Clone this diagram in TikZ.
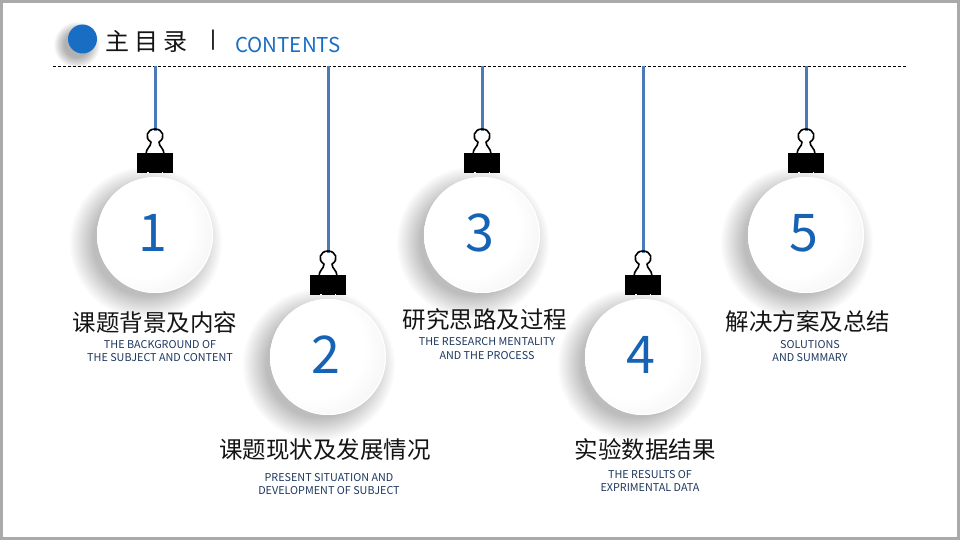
\documentclass[tikz,border=0pt]{standalone}
\usepackage{fontspec}
\setmainfont{Noto Sans CJK SC}
\definecolor{stringblue}{RGB}{74,122,184}
\definecolor{numblue}{RGB}{22,98,180}
\definecolor{titleblue}{RGB}{25,110,196}
\definecolor{engblue}{RGB}{30,56,96}
\definecolor{txtblack}{RGB}{20,20,20}
\definecolor{framegray}{RGB}{170,170,170}
\pgfdeclareradialshading{ballshade}{\pgfpoint{-10bp}{6bp}}{color(0bp)=(white); color(22bp)=(white); color(40bp)=(black!7); color(52bp)=(black!15); color(62bp)=(black!20)}
\tikzset{
  cjklabel/.style={font=\fontsize{23.5}{26}\selectfont, text=txtblack, inner sep=0pt},
  englabel/.style={font=\fontsize{10.8}{13.5}\selectfont, text=engblue, align=center, inner sep=0pt},
  numlabel/.style={font=\fontsize{52}{56}\selectfont, text=numblue, inner sep=0pt},
  hangstring/.style={draw=stringblue, line width=3pt},
  clipbody/.style={fill=black},
  cliphandle/.style={draw=black, line width=1.6pt, line join=round},
  ballface/.style={shading=ballshade},
}
\begin{document}
\begin{tikzpicture}[x=1pt,y=-1pt]
\useasboundingbox (0,0) rectangle (960,540);
\fill[white] (0,0) rectangle (960,540);
\draw[framegray, line width=3pt] (1.5,1.5) rectangle (958.5,538.5);

% title
\foreach \k in {1,...,12}{
  \fill[black, opacity=0.028] (77,45) circle ({12+\k*0.9});
}
\fill[titleblue] (82.5,39) circle (14.5);
\node[font=\fontsize{24}{26}\selectfont, text=txtblack, anchor=west, inner sep=0pt] (ttl) at (105,41) {主\hspace{5pt}目\hspace{5pt}录};
\node[font=\fontsize{22}{26}\selectfont, text=txtblack, inner sep=0pt] (bar) at (213,40) {丨};
\node[font=\fontsize{20.5}{24}\selectfont, text=titleblue, anchor=west, inner sep=0pt] (cont) at (235,45) {CONTENTS};

% dashed line
\coordinate (dl) at (53,66);
\coordinate (dr) at (907,66);
\draw[black, line width=0.8pt, dash pattern=on 3pt off 2pt] (dl) -- (dr);

% ornaments
\foreach \cx/\cy/\n in {155/235/1, 328/357/2, 482/235/3, 643/357/4, 806/235/5}{
  % shadow
  \foreach \k in {1,...,22}{
    \fill[black, opacity=0.013] ({\cx-9},{\cy+8}) circle ({52+\k*1.1});
  }
  \coordinate (top\n) at (\cx,66);
  \coordinate (hook\n) at (\cx,{\cy-104});
  \draw[hangstring] (top\n) -- (hook\n);
  % clip handle
  \draw[cliphandle] ({\cx-9},{\cy-81}) .. controls ({\cx-9},{\cy-87}) and ({\cx-4},{\cy-88}) .. ({\cx-4},{\cy-93})
     .. controls ({\cx-11},{\cy-97}) and ({\cx-8},{\cy-106}) .. (\cx,{\cy-106})
     .. controls ({\cx+8},{\cy-106}) and ({\cx+11},{\cy-97}) .. ({\cx+4},{\cy-93})
     .. controls ({\cx+4},{\cy-88}) and ({\cx+9},{\cy-87}) .. ({\cx+9},{\cy-81});
  % clip body
  \fill[clipbody] ({\cx-18},{\cy-82}) rectangle ({\cx+18},{\cy-62});
  \fill[white] ({\cx-8},{\cy-63}) rectangle ({\cx-6.5},{\cy-62});
  \fill[white] ({\cx+6.5},{\cy-63}) rectangle ({\cx+8},{\cy-62});
  % ball
  \path[ballface] (\cx,\cy) circle (58);
  \draw[white, line width=1.2pt] (\cx,\cy) circle (57.4);
  \node[numlabel] (num\n) at ({\cx-2},{\cy-2}) {\n};
}

% labels
\node[cjklabel] (c1) at (155,323) {课题背景及内容};
\node[englabel] (e1) at (160,351) {THE BACKGROUND OF\\THE SUBJECT AND CONTENT};
\node[cjklabel] (c2) at (325,450) {课题现状及发展情况};
\node[englabel] (e2) at (329,484) {PRESENT SITUATION AND\\DEVELOPMENT OF SUBJECT};
\node[cjklabel] (c3) at (485,320) {研究思路及过程};
\node[englabel] (e3) at (487,348.5) {THE RESEARCH MENTALITY\\AND THE PROCESS};
\node[cjklabel] (c4) at (645,450) {实验数据结果};
\node[englabel] (e4) at (650,481) {THE RESULTS OF\\EXPRIMENTAL DATA};
\node[cjklabel] (c5) at (808,322) {解决方案及总结};
\node[englabel] (e5) at (810,351) {SOLUTIONS\\AND SUMMARY};
\end{tikzpicture}
\end{document}
